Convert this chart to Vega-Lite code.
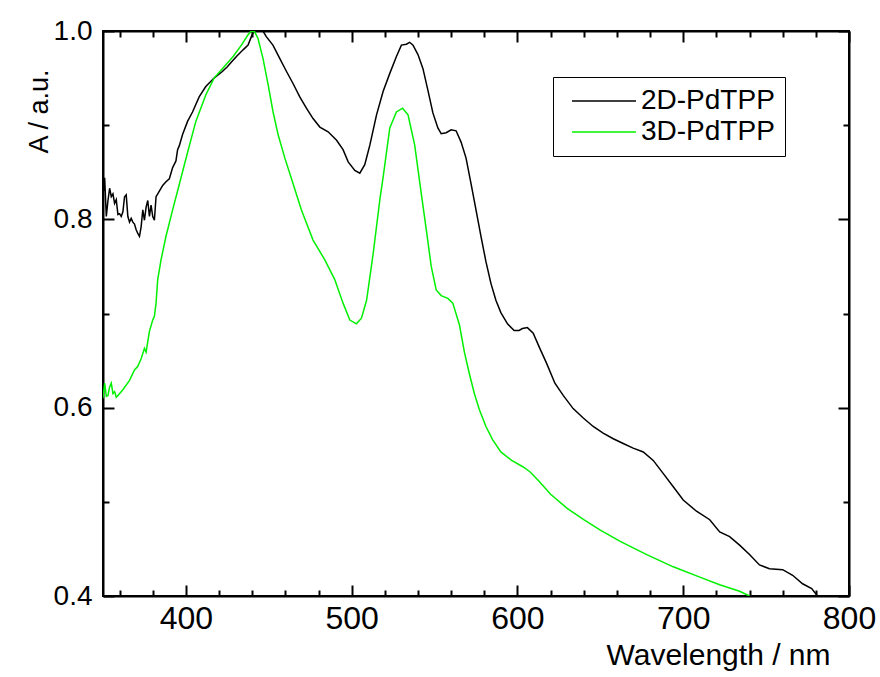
{
  "$schema": "https://vega.github.io/schema/vega-lite/v6.json",
  "width": 746,
  "height": 565,
  "autosize": {"type": "none"},
  "padding": {"left": 103, "top": 31, "right": 31, "bottom": 81},
  "background": "white",
  "config": {
    "view": {"stroke": "black", "strokeWidth": 2}
  },
  "datasets": {
    "spectra": [
      {"w": 350, "a": 0.849, "s": "2D-PdTPP"}, {"w": 350.5, "a": 0.83, "s": "2D-PdTPP"}, {"w": 351, "a": 0.844, "s": "2D-PdTPP"}, {"w": 352, "a": 0.803, "s": "2D-PdTPP"}, {"w": 353, "a": 0.82, "s": "2D-PdTPP"}, {"w": 354, "a": 0.833, "s": "2D-PdTPP"}, {"w": 355, "a": 0.824, "s": "2D-PdTPP"}, {"w": 356, "a": 0.827, "s": "2D-PdTPP"}, {"w": 357, "a": 0.817, "s": "2D-PdTPP"}, {"w": 358, "a": 0.821, "s": "2D-PdTPP"}, {"w": 359, "a": 0.805, "s": "2D-PdTPP"}, {"w": 360, "a": 0.806, "s": "2D-PdTPP"}, {"w": 361, "a": 0.803, "s": "2D-PdTPP"}, {"w": 362, "a": 0.808, "s": "2D-PdTPP"}, {"w": 363, "a": 0.824, "s": "2D-PdTPP"}, {"w": 364, "a": 0.826, "s": "2D-PdTPP"}, {"w": 365, "a": 0.803, "s": "2D-PdTPP"}, {"w": 366, "a": 0.797, "s": "2D-PdTPP"}, {"w": 367, "a": 0.801, "s": "2D-PdTPP"}, {"w": 368, "a": 0.797, "s": "2D-PdTPP"}, {"w": 369, "a": 0.795, "s": "2D-PdTPP"}, {"w": 370, "a": 0.789, "s": "2D-PdTPP"}, {"w": 371, "a": 0.785, "s": "2D-PdTPP"}, {"w": 372, "a": 0.782, "s": "2D-PdTPP"}, {"w": 373, "a": 0.792, "s": "2D-PdTPP"}, {"w": 374, "a": 0.81, "s": "2D-PdTPP"}, {"w": 375, "a": 0.799, "s": "2D-PdTPP"}, {"w": 376, "a": 0.813, "s": "2D-PdTPP"}, {"w": 377, "a": 0.82, "s": "2D-PdTPP"}, {"w": 378, "a": 0.803, "s": "2D-PdTPP"}, {"w": 379, "a": 0.815, "s": "2D-PdTPP"}, {"w": 380, "a": 0.803, "s": "2D-PdTPP"}, {"w": 381, "a": 0.799, "s": "2D-PdTPP"}, {"w": 382, "a": 0.824, "s": "2D-PdTPP"}, {"w": 384, "a": 0.83, "s": "2D-PdTPP"}, {"w": 386, "a": 0.836, "s": "2D-PdTPP"}, {"w": 388, "a": 0.84, "s": "2D-PdTPP"}, {"w": 390, "a": 0.843, "s": "2D-PdTPP"}, {"w": 391, "a": 0.849, "s": "2D-PdTPP"}, {"w": 392, "a": 0.855, "s": "2D-PdTPP"}, {"w": 394, "a": 0.862, "s": "2D-PdTPP"}, {"w": 395, "a": 0.874, "s": "2D-PdTPP"}, {"w": 396, "a": 0.878, "s": "2D-PdTPP"}, {"w": 398, "a": 0.89, "s": "2D-PdTPP"}, {"w": 401, "a": 0.904, "s": "2D-PdTPP"}, {"w": 404, "a": 0.914, "s": "2D-PdTPP"}, {"w": 408, "a": 0.93, "s": "2D-PdTPP"}, {"w": 412, "a": 0.941, "s": "2D-PdTPP"}, {"w": 417, "a": 0.95, "s": "2D-PdTPP"}, {"w": 422, "a": 0.957, "s": "2D-PdTPP"}, {"w": 425, "a": 0.962, "s": "2D-PdTPP"}, {"w": 427.5, "a": 0.967, "s": "2D-PdTPP"}, {"w": 430.5, "a": 0.973, "s": "2D-PdTPP"}, {"w": 434.5, "a": 0.98, "s": "2D-PdTPP"}, {"w": 437.5, "a": 0.985, "s": "2D-PdTPP"}, {"w": 439.5, "a": 0.994, "s": "2D-PdTPP"}, {"w": 440.5, "a": 0.998, "s": "2D-PdTPP"}, {"w": 442.5, "a": 1.0, "s": "2D-PdTPP"}, {"w": 446.5, "a": 1.0, "s": "2D-PdTPP"}, {"w": 448.5, "a": 0.994, "s": "2D-PdTPP"}, {"w": 452.5, "a": 0.985, "s": "2D-PdTPP"}, {"w": 456.6, "a": 0.971, "s": "2D-PdTPP"}, {"w": 460.7, "a": 0.957, "s": "2D-PdTPP"}, {"w": 464.7, "a": 0.944, "s": "2D-PdTPP"}, {"w": 468.7, "a": 0.93, "s": "2D-PdTPP"}, {"w": 472.7, "a": 0.918, "s": "2D-PdTPP"}, {"w": 476.7, "a": 0.907, "s": "2D-PdTPP"}, {"w": 480.8, "a": 0.898, "s": "2D-PdTPP"}, {"w": 485.8, "a": 0.893, "s": "2D-PdTPP"}, {"w": 490.9, "a": 0.884, "s": "2D-PdTPP"}, {"w": 494.8, "a": 0.874, "s": "2D-PdTPP"}, {"w": 497.9, "a": 0.861, "s": "2D-PdTPP"}, {"w": 501.9, "a": 0.852, "s": "2D-PdTPP"}, {"w": 504.9, "a": 0.849, "s": "2D-PdTPP"}, {"w": 507.9, "a": 0.858, "s": "2D-PdTPP"}, {"w": 511, "a": 0.879, "s": "2D-PdTPP"}, {"w": 515, "a": 0.911, "s": "2D-PdTPP"}, {"w": 519, "a": 0.936, "s": "2D-PdTPP"}, {"w": 523, "a": 0.955, "s": "2D-PdTPP"}, {"w": 527, "a": 0.973, "s": "2D-PdTPP"}, {"w": 530, "a": 0.985, "s": "2D-PdTPP"}, {"w": 533, "a": 0.986, "s": "2D-PdTPP"}, {"w": 535, "a": 0.988, "s": "2D-PdTPP"}, {"w": 537, "a": 0.985, "s": "2D-PdTPP"}, {"w": 540, "a": 0.975, "s": "2D-PdTPP"}, {"w": 543, "a": 0.96, "s": "2D-PdTPP"}, {"w": 546, "a": 0.937, "s": "2D-PdTPP"}, {"w": 549, "a": 0.913, "s": "2D-PdTPP"}, {"w": 552, "a": 0.897, "s": "2D-PdTPP"}, {"w": 554, "a": 0.891, "s": "2D-PdTPP"}, {"w": 557, "a": 0.892, "s": "2D-PdTPP"}, {"w": 560, "a": 0.895, "s": "2D-PdTPP"}, {"w": 563, "a": 0.894, "s": "2D-PdTPP"}, {"w": 566, "a": 0.882, "s": "2D-PdTPP"}, {"w": 569, "a": 0.865, "s": "2D-PdTPP"}, {"w": 572, "a": 0.838, "s": "2D-PdTPP"}, {"w": 575, "a": 0.81, "s": "2D-PdTPP"}, {"w": 578, "a": 0.782, "s": "2D-PdTPP"}, {"w": 581, "a": 0.755, "s": "2D-PdTPP"}, {"w": 584, "a": 0.732, "s": "2D-PdTPP"}, {"w": 587, "a": 0.714, "s": "2D-PdTPP"}, {"w": 590, "a": 0.701, "s": "2D-PdTPP"}, {"w": 594, "a": 0.689, "s": "2D-PdTPP"}, {"w": 598, "a": 0.682, "s": "2D-PdTPP"}, {"w": 601, "a": 0.682, "s": "2D-PdTPP"}, {"w": 603, "a": 0.684, "s": "2D-PdTPP"}, {"w": 606, "a": 0.685, "s": "2D-PdTPP"}, {"w": 609.5, "a": 0.679, "s": "2D-PdTPP"}, {"w": 613.5, "a": 0.663, "s": "2D-PdTPP"}, {"w": 617.6, "a": 0.647, "s": "2D-PdTPP"}, {"w": 622.6, "a": 0.626, "s": "2D-PdTPP"}, {"w": 627.6, "a": 0.613, "s": "2D-PdTPP"}, {"w": 633.6, "a": 0.599, "s": "2D-PdTPP"}, {"w": 639.7, "a": 0.589, "s": "2D-PdTPP"}, {"w": 645.7, "a": 0.58, "s": "2D-PdTPP"}, {"w": 651.7, "a": 0.573, "s": "2D-PdTPP"}, {"w": 657.8, "a": 0.567, "s": "2D-PdTPP"}, {"w": 663.8, "a": 0.562, "s": "2D-PdTPP"}, {"w": 669.8, "a": 0.557, "s": "2D-PdTPP"}, {"w": 675.9, "a": 0.553, "s": "2D-PdTPP"}, {"w": 681.9, "a": 0.544, "s": "2D-PdTPP"}, {"w": 688, "a": 0.53, "s": "2D-PdTPP"}, {"w": 694, "a": 0.516, "s": "2D-PdTPP"}, {"w": 700, "a": 0.502, "s": "2D-PdTPP"}, {"w": 708, "a": 0.49, "s": "2D-PdTPP"}, {"w": 716, "a": 0.481, "s": "2D-PdTPP"}, {"w": 722, "a": 0.468, "s": "2D-PdTPP"}, {"w": 728, "a": 0.463, "s": "2D-PdTPP"}, {"w": 734, "a": 0.454, "s": "2D-PdTPP"}, {"w": 740, "a": 0.444, "s": "2D-PdTPP"}, {"w": 746, "a": 0.433, "s": "2D-PdTPP"}, {"w": 752, "a": 0.429, "s": "2D-PdTPP"}, {"w": 760, "a": 0.428, "s": "2D-PdTPP"}, {"w": 766, "a": 0.422, "s": "2D-PdTPP"}, {"w": 772, "a": 0.413, "s": "2D-PdTPP"}, {"w": 777.5, "a": 0.408, "s": "2D-PdTPP"}, {"w": 781, "a": 0.4, "s": "2D-PdTPP"},
      {"w": 350, "a": 0.61, "s": "3D-PdTPP"}, {"w": 351, "a": 0.626, "s": "3D-PdTPP"}, {"w": 352, "a": 0.612, "s": "3D-PdTPP"}, {"w": 353, "a": 0.613, "s": "3D-PdTPP"}, {"w": 354, "a": 0.622, "s": "3D-PdTPP"}, {"w": 355, "a": 0.626, "s": "3D-PdTPP"}, {"w": 356, "a": 0.615, "s": "3D-PdTPP"}, {"w": 357, "a": 0.617, "s": "3D-PdTPP"}, {"w": 358, "a": 0.611, "s": "3D-PdTPP"}, {"w": 359, "a": 0.613, "s": "3D-PdTPP"}, {"w": 362, "a": 0.619, "s": "3D-PdTPP"}, {"w": 366, "a": 0.629, "s": "3D-PdTPP"}, {"w": 369, "a": 0.64, "s": "3D-PdTPP"}, {"w": 371, "a": 0.644, "s": "3D-PdTPP"}, {"w": 373, "a": 0.652, "s": "3D-PdTPP"}, {"w": 375, "a": 0.663, "s": "3D-PdTPP"}, {"w": 376, "a": 0.659, "s": "3D-PdTPP"}, {"w": 378, "a": 0.681, "s": "3D-PdTPP"}, {"w": 380, "a": 0.693, "s": "3D-PdTPP"}, {"w": 381, "a": 0.697, "s": "3D-PdTPP"}, {"w": 382, "a": 0.711, "s": "3D-PdTPP"}, {"w": 383, "a": 0.736, "s": "3D-PdTPP"}, {"w": 385, "a": 0.757, "s": "3D-PdTPP"}, {"w": 388, "a": 0.782, "s": "3D-PdTPP"}, {"w": 392, "a": 0.81, "s": "3D-PdTPP"}, {"w": 396, "a": 0.837, "s": "3D-PdTPP"}, {"w": 401, "a": 0.871, "s": "3D-PdTPP"}, {"w": 406, "a": 0.904, "s": "3D-PdTPP"}, {"w": 412, "a": 0.932, "s": "3D-PdTPP"}, {"w": 417, "a": 0.95, "s": "3D-PdTPP"}, {"w": 422, "a": 0.96, "s": "3D-PdTPP"}, {"w": 428.5, "a": 0.973, "s": "3D-PdTPP"}, {"w": 433.5, "a": 0.985, "s": "3D-PdTPP"}, {"w": 437.5, "a": 0.996, "s": "3D-PdTPP"}, {"w": 439.5, "a": 1.0, "s": "3D-PdTPP"}, {"w": 441.5, "a": 0.999, "s": "3D-PdTPP"}, {"w": 443.5, "a": 0.992, "s": "3D-PdTPP"}, {"w": 446.5, "a": 0.971, "s": "3D-PdTPP"}, {"w": 449.6, "a": 0.943, "s": "3D-PdTPP"}, {"w": 452.6, "a": 0.914, "s": "3D-PdTPP"}, {"w": 455.6, "a": 0.89, "s": "3D-PdTPP"}, {"w": 459.7, "a": 0.865, "s": "3D-PdTPP"}, {"w": 463.7, "a": 0.843, "s": "3D-PdTPP"}, {"w": 469.7, "a": 0.81, "s": "3D-PdTPP"}, {"w": 476.7, "a": 0.778, "s": "3D-PdTPP"}, {"w": 483.8, "a": 0.757, "s": "3D-PdTPP"}, {"w": 489.8, "a": 0.736, "s": "3D-PdTPP"}, {"w": 494.8, "a": 0.711, "s": "3D-PdTPP"}, {"w": 498.9, "a": 0.693, "s": "3D-PdTPP"}, {"w": 502.9, "a": 0.689, "s": "3D-PdTPP"}, {"w": 505.9, "a": 0.695, "s": "3D-PdTPP"}, {"w": 509, "a": 0.714, "s": "3D-PdTPP"}, {"w": 513, "a": 0.764, "s": "3D-PdTPP"}, {"w": 517, "a": 0.821, "s": "3D-PdTPP"}, {"w": 519, "a": 0.845, "s": "3D-PdTPP"}, {"w": 523, "a": 0.897, "s": "3D-PdTPP"}, {"w": 527, "a": 0.914, "s": "3D-PdTPP"}, {"w": 530.7, "a": 0.918, "s": "3D-PdTPP"}, {"w": 534, "a": 0.911, "s": "3D-PdTPP"}, {"w": 538, "a": 0.879, "s": "3D-PdTPP"}, {"w": 541, "a": 0.84, "s": "3D-PdTPP"}, {"w": 545, "a": 0.789, "s": "3D-PdTPP"}, {"w": 548, "a": 0.75, "s": "3D-PdTPP"}, {"w": 551, "a": 0.725, "s": "3D-PdTPP"}, {"w": 554, "a": 0.719, "s": "3D-PdTPP"}, {"w": 558, "a": 0.716, "s": "3D-PdTPP"}, {"w": 561, "a": 0.711, "s": "3D-PdTPP"}, {"w": 565, "a": 0.688, "s": "3D-PdTPP"}, {"w": 568, "a": 0.659, "s": "3D-PdTPP"}, {"w": 571, "a": 0.636, "s": "3D-PdTPP"}, {"w": 574, "a": 0.615, "s": "3D-PdTPP"}, {"w": 577, "a": 0.598, "s": "3D-PdTPP"}, {"w": 581, "a": 0.58, "s": "3D-PdTPP"}, {"w": 585, "a": 0.566, "s": "3D-PdTPP"}, {"w": 590, "a": 0.553, "s": "3D-PdTPP"}, {"w": 596.5, "a": 0.544, "s": "3D-PdTPP"}, {"w": 603.5, "a": 0.537, "s": "3D-PdTPP"}, {"w": 607.5, "a": 0.532, "s": "3D-PdTPP"}, {"w": 612.5, "a": 0.523, "s": "3D-PdTPP"}, {"w": 620, "a": 0.508, "s": "3D-PdTPP"}, {"w": 630, "a": 0.493, "s": "3D-PdTPP"}, {"w": 640, "a": 0.481, "s": "3D-PdTPP"}, {"w": 650, "a": 0.47, "s": "3D-PdTPP"}, {"w": 662, "a": 0.458, "s": "3D-PdTPP"}, {"w": 678, "a": 0.444, "s": "3D-PdTPP"}, {"w": 694, "a": 0.431, "s": "3D-PdTPP"}, {"w": 710, "a": 0.42, "s": "3D-PdTPP"}, {"w": 722, "a": 0.412, "s": "3D-PdTPP"}, {"w": 734, "a": 0.405, "s": "3D-PdTPP"}, {"w": 740, "a": 0.4, "s": "3D-PdTPP"}
    ]
  },
  "data": {"name": "spectra"},
  "layer": [
    {
      "mark": {"type": "line", "strokeWidth": 1.5, "clip": true},
      "encoding": {
        "x": {
          "field": "w", "type": "quantitative",
          "scale": {"domain": [350, 800], "nice": false, "zero": false},
          "axis": {
            "orient": "bottom", "grid": false, "domain": true, "domainColor": "black", "domainWidth": 2,
            "values": [400, 500, 600, 700, 800],
            "tickSize": -11, "tickColor": "black", "tickWidth": 2,
            "labelFlush": false, "labelOverlap": false, "labelColor": "black",
            "labelFont": "Liberation Sans", "labelFontSize": 32, "labelPadding": 18,
            "title": "Wavelength / nm", "titleFont": "Liberation Sans", "titleFontSize": 30, "titleFontWeight": "normal", "titleColor": "black",
            "titleAlign": "right", "titleAnchor": "end", "titleX": 727, "titleY": 68, "titleBaseline": "alphabetic"
          }
        },
        "y": {
          "field": "a", "type": "quantitative",
          "scale": {"domain": [0.4, 1.0], "nice": false, "zero": false},
          "axis": {
            "orient": "left", "grid": false, "domain": true, "domainColor": "black", "domainWidth": 2,
            "values": [0.4, 0.6, 0.8, 1.0], "format": ".1f",
            "tickSize": -11, "tickColor": "black", "tickWidth": 2,
            "labelFlush": false, "labelOverlap": false, "labelColor": "black",
            "labelFont": "Liberation Sans", "labelFontSize": 28, "labelPadding": 22,
            "title": "A / a.u.", "titleFont": "Liberation Sans", "titleFontSize": 27, "titleFontWeight": "normal", "titleColor": "black",
            "titleAngle": -90, "titleAlign": "right", "titleBaseline": "alphabetic", "titleX": -56, "titleY": 38
          }
        },
        "color": {
          "field": "s", "type": "nominal",
          "scale": {"domain": ["2D-PdTPP", "3D-PdTPP"], "range": ["#000000", "#00f000"]},
          "legend": {
            "orient": "none", "legendX": 450, "legendY": 46, "title": null,
            "symbolType": "M-4,0H4", "symbolSize": 256, "symbolStrokeWidth": 1.5,
            "labelFont": "Liberation Sans", "labelFontSize": 28, "labelColor": "black", "labelOffset": 23,
            "padding": 10, "symbolOffset": 27, "rowPadding": 3,
            "strokeColor": "black", "fillColor": "white"
          }
        }
      }
    },
    {
      "mark": {"type": "line", "opacity": 0},
      "encoding": {
        "x": {"field": "w", "type": "quantitative", "axis": {"orient": "top", "grid": false, "domain": true, "domainColor": "black", "domainWidth": 2, "labels": false, "title": null, "values": [400, 500, 600, 700, 800], "tickSize": -11, "tickColor": "black", "tickWidth": 2}},
        "y": {"field": "a", "type": "quantitative", "axis": {"orient": "right", "grid": false, "domain": true, "domainColor": "black", "domainWidth": 2, "labels": false, "title": null, "values": [0.4, 0.6, 0.8, 1.0], "tickSize": -11, "tickColor": "black", "tickWidth": 2}},
        "detail": {"field": "s", "type": "nominal"}
      }
    },
    {
      "mark": {"type": "line", "opacity": 0},
      "encoding": {
        "x": {"field": "w", "type": "quantitative", "axis": {"orient": "bottom", "grid": false, "domain": false, "labels": false, "title": null, "values": [360, 380, 420, 440, 460, 480, 520, 540, 560, 580, 620, 640, 660, 680, 720, 740, 760, 780], "tickSize": -6, "tickColor": "black", "tickWidth": 2}},
        "y": {"field": "a", "type": "quantitative", "axis": {"orient": "left", "grid": false, "domain": false, "labels": false, "title": null, "values": [0.5, 0.7, 0.9], "tickSize": -6, "tickColor": "black", "tickWidth": 2}},
        "detail": {"field": "s", "type": "nominal"}
      }
    },
    {
      "mark": {"type": "line", "opacity": 0},
      "encoding": {
        "x": {"field": "w", "type": "quantitative", "axis": {"orient": "top", "grid": false, "domain": false, "labels": false, "title": null, "values": [360, 380, 420, 440, 460, 480, 520, 540, 560, 580, 620, 640, 660, 680, 720, 740, 760, 780], "tickSize": -6, "tickColor": "black", "tickWidth": 2}},
        "y": {"field": "a", "type": "quantitative", "axis": {"orient": "right", "grid": false, "domain": false, "labels": false, "title": null, "values": [0.5, 0.7, 0.9], "tickSize": -6, "tickColor": "black", "tickWidth": 2}},
        "detail": {"field": "s", "type": "nominal"}
      }
    }
  ],
  "resolve": {"axis": {"x": "independent", "y": "independent"}}
}
